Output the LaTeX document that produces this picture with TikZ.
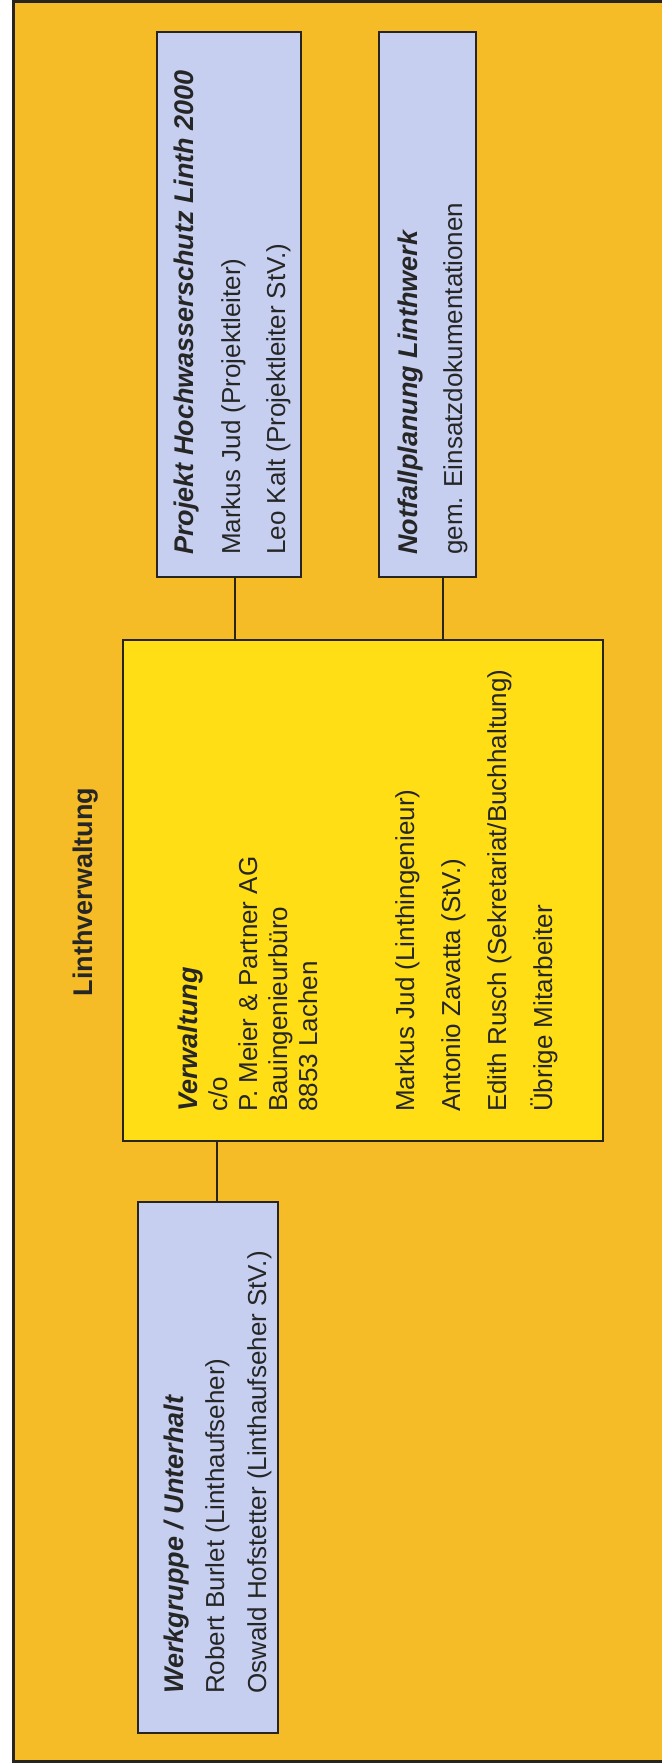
\documentclass[tikz,border=0pt]{standalone}
\usepackage{fontspec}
\setmainfont{Liberation Sans}
\definecolor{bgorange}{RGB}{245,188,40}
\definecolor{verwyellow}{RGB}{255,222,22}
\definecolor{boxblue}{RGB}{199,207,240}
\definecolor{edge}{RGB}{40,36,30}
\newcommand\regf{\fontsize{26bp}{30bp}\selectfont}
\newcommand\titf{\fontsize{27bp}{31bp}\selectfont\bfseries\itshape}
\tikzset{
  bluebox/.style={draw=edge, line width=1.4bp, fill=boxblue, inner sep=0pt, outer sep=0pt},
  verwbox/.style={draw=edge, line width=1.6bp, fill=verwyellow, inner sep=0pt, outer sep=0pt},
  txt/.style={rotate=90, anchor=base west, inner sep=0pt, font=\regf, text=black!85},
  ttl/.style={rotate=90, anchor=base west, inner sep=0pt, font=\titf, text=black!85},
  conn/.style={draw=edge, line width=2bp},
}
\begin{document}
\begin{tikzpicture}[x=1bp, y=-1bp]
\useasboundingbox (0,0) rectangle (662,1764);
\fill[white] (0,0) rectangle (662,1764);
\fill[bgorange] (13.5,1.5) rectangle (662,1761.5);
\draw[draw=edge, line width=3bp] (662,1.5) -- (13.5,1.5) -- (13.5,1761.5) -- (662,1761.5);

% title
\node[rotate=90, anchor=base, inner sep=0pt, font=\fontsize{27bp}{31bp}\selectfont\bfseries, text=black!85] (title) at (92,892) {Linthverwaltung};

% boxes
\node[bluebox, minimum width=144bp, minimum height=545bp] (proj) at (229,304.5) {};
\node[bluebox, minimum width=97bp, minimum height=545bp] (notf) at (427.5,304.5) {};
\node[verwbox, minimum width=480bp, minimum height=501bp] (verw) at (363,890.5) {};
\node[bluebox, minimum width=140bp, minimum height=531bp] (werk) at (208,1467.5) {};

% connectors
\draw[conn] ([xshift=6bp]proj.south) -- ([xshift=6bp]proj.south |- verw.north);
\draw[conn] ([xshift=15.5bp]notf.south) -- ([xshift=15.5bp]notf.south |- verw.north);
\draw[conn] ([xshift=9bp]werk.north) -- ([xshift=9bp]werk.north |- verw.south);

% Projekt box text
\node[ttl] (projt) at (193,555) {Projekt Hochwasserschutz Linth 2000};
\node[txt] (proja) at (240,555) {Markus Jud (Projektleiter)};
\node[txt] (projb) at (285,555) {Leo Kalt (Projektleiter StV.)};

% Notfall box text
\node[ttl] (notft) at (417,555) {Notfallplanung Linthwerk};
\node[txt] (notfa) at (462,555) {gem. Einsatzdokumentationen};

% Verwaltung box text
\node[ttl] (verwt) at (197,1112) {Verwaltung};
\node[txt] (verwa) at (227,1112) {c/o};
\node[txt] (verwb) at (257,1112) {P. Meier \& Partner AG};
\node[txt] (verwc) at (287,1112) {Bauingenieurbüro};
\node[txt] (verwd) at (317,1112) {8853 Lachen};
\node[txt] (verwe) at (414,1112) {Markus Jud (Linthingenieur)};
\node[txt] (verwf) at (460,1112) {Antonio Zavatta (StV.)};
\node[txt] (verwg) at (506,1112) {Edith Rusch (Sekretariat/Buchhaltung)};
\node[txt] (verwh) at (552,1112) {Übrige Mitarbeiter};

% Werkgruppe box text
\node[ttl] (werkt) at (183,1694) {Werkgruppe / Unterhalt};
\node[txt] (werka) at (224,1694) {Robert Burlet (Linthaufseher)};
\node[txt] (werkb) at (266,1694) {Oswald Hofstetter (Linthaufseher StV.)};
\end{tikzpicture}
\end{document}
